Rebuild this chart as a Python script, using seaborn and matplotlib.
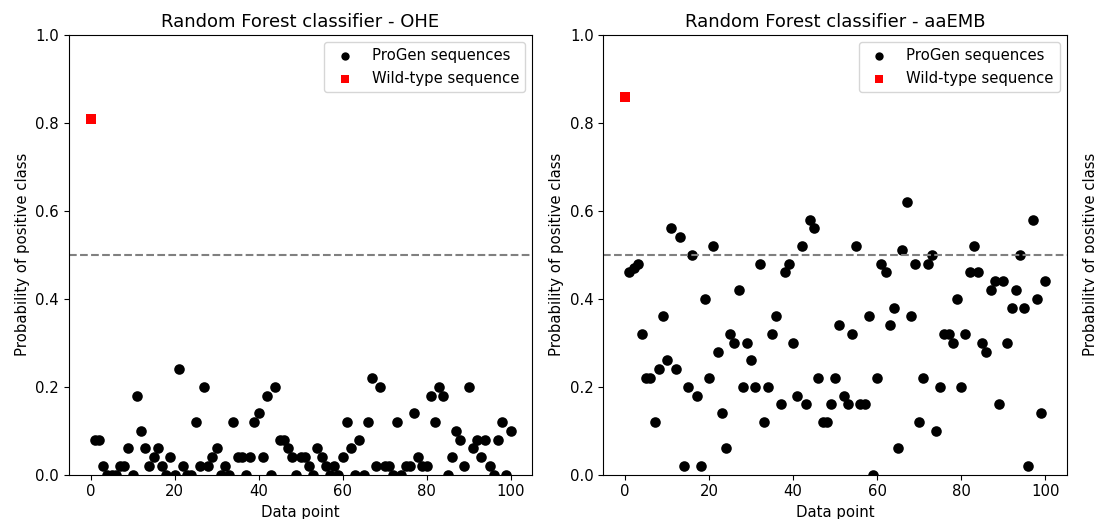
import numpy as np
import pandas as pd
import matplotlib
matplotlib.use("Agg")
import matplotlib.pyplot as plt
import seaborn as sns

# ---- data ----
data_points = list(range(1, 101))
ohe_probs = [
    0.08, 0.08, 0.02, 0.00, 0.00, 0.00, 0.02, 0.02, 0.06, 0.00,
    0.18, 0.10, 0.06, 0.02, 0.04, 0.06, 0.02, 0.00, 0.04, 0.00,
    0.24, 0.02, 0.00, 0.00, 0.12, 0.02, 0.20, 0.02, 0.04, 0.06,
    0.00, 0.02, 0.00, 0.12, 0.04, 0.04, 0.00, 0.04, 0.12, 0.14,
    0.04, 0.18, 0.00, 0.20, 0.08, 0.08, 0.06, 0.04, 0.00, 0.04,
    0.04, 0.02, 0.00, 0.06, 0.04, 0.02, 0.00, 0.02, 0.00, 0.04,
    0.12, 0.06, 0.00, 0.08, 0.00, 0.12, 0.22, 0.02, 0.20, 0.02,
    0.02, 0.00, 0.12, 0.00, 0.02, 0.02, 0.14, 0.04, 0.02, 0.02,
    0.18, 0.12, 0.20, 0.18, 0.00, 0.04, 0.10, 0.08, 0.02, 0.20,
    0.06, 0.08, 0.04, 0.08, 0.02, 0.00, 0.08, 0.12, 0.00, 0.10,
]
aaemb_probs = [
    0.46, 0.47, 0.48, 0.32, 0.22, 0.22, 0.12, 0.24, 0.36, 0.26,
    0.56, 0.24, 0.54, 0.02, 0.20, 0.50, 0.18, 0.02, 0.40, 0.22,
    0.52, 0.28, 0.14, 0.06, 0.32, 0.30, 0.42, 0.20, 0.30, 0.26,
    0.20, 0.48, 0.12, 0.20, 0.32, 0.36, 0.16, 0.46, 0.48, 0.30,
    0.18, 0.52, 0.16, 0.58, 0.56, 0.22, 0.12, 0.12, 0.16, 0.22,
    0.34, 0.18, 0.16, 0.32, 0.52, 0.16, 0.16, 0.36, 0.00, 0.22,
    0.48, 0.46, 0.34, 0.38, 0.06, 0.51, 0.62, 0.36, 0.48, 0.12,
    0.22, 0.48, 0.50, 0.10, 0.20, 0.32, 0.32, 0.30, 0.40, 0.20,
    0.32, 0.46, 0.52, 0.46, 0.30, 0.28, 0.42, 0.44, 0.16, 0.44,
    0.30, 0.38, 0.42, 0.50, 0.38, 0.02, 0.58, 0.40, 0.14, 0.44,
]
wt_x = [0]
wt_ohe = [0.81]
wt_aaemb = [0.86]
threshold = 0.5
titles = ["Random Forest classifier - OHE", "Random Forest classifier - aaEMB"]

plt.rcParams["font.size"] = 10.7

fig = plt.figure(figsize=(10.94, 5.19), dpi=100)
axes = [fig.add_axes([0.0628, 0.0854, 0.4238, 0.8472]),
        fig.add_axes([0.5515, 0.0854, 0.4238, 0.8472])]

for ax, probs, wt, title in zip(axes, [ohe_probs, aaemb_probs], [wt_ohe, wt_aaemb], titles):
    df = pd.DataFrame({"x": data_points, "y": probs})
    sns.scatterplot(data=df, x="x", y="y", ax=ax, color="black", s=58,
                    linewidth=0, marker="o", label="ProGen sequences", legend=False)
    dw = pd.DataFrame({"x": wt_x, "y": wt})
    sns.scatterplot(data=dw, x="x", y="y", ax=ax, color="red", s=52,
                    linewidth=0, marker="s", label="Wild-type sequence", legend=False)
    ax.axhline(threshold, color="gray", linestyle="--")
    ax.set_ylim(0, 1.0)
    ax.set_xlim(-5.2, 105.2)
    ax.set_title(title, fontsize=13)
    ax.set_xlabel("Data point")
    ax.set_ylabel("Probability of positive class")
    leg = ax.legend(loc="upper right")
    for h, sz in zip(leg.legend_handles, [36, 28]):
        h.set_sizes([sz])

fig.text(1090 / 1094, 0.509, "Probability of positive class", rotation=90,
         ha="center", va="center", fontsize=10.7)

fig.savefig("out.png", dpi=100)
